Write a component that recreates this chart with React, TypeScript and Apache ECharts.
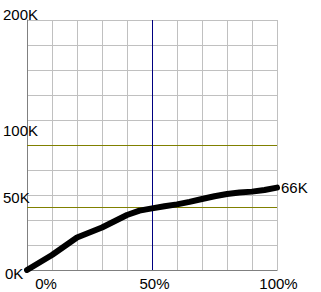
import React, { useEffect, useRef } from "react";
import * as echarts from "echarts";

const percents = [0, 5, 10, 15, 20, 25, 30, 35, 40, 45, 50, 55, 60, 65, 70, 75, 80, 85, 90, 95, 100];
const valuesK = [0, 6, 12, 19, 26, 30, 34, 39, 44, 47.5, 49.3, 51, 52.5, 54.5, 56.8, 59, 60.8, 62, 62.7, 64, 65.9];
const yLabelValues = [0, 50, 100, 200];
const xLabelValues = [0, 50, 100];
const refLinesK = [50, 100];
const refLinePct = 50;

const FONT = "'Liberation Sans', Arial, sans-serif";

export default function App() {
  const ref = useRef<HTMLDivElement>(null);
  useEffect(() => {
    if (!ref.current) return;
    const chart = echarts.init(ref.current, null, { renderer: "svg" });
    const data = percents.map((p, i) => [p, valuesK[i]]);
    chart.setOption({
      animation: false,
      textStyle: { fontFamily: FONT },
      grid: { left: 27, top: 20, right: 44, bottom: 22, containLabel: false },
      xAxis: [
        {
          type: "value",
          min: 0,
          max: 100,
          interval: 10,
          axisLine: { show: true, lineStyle: { color: "#c0c0c0" } },
          axisTick: { show: false },
          splitLine: { show: true, lineStyle: { color: "#c0c0c0", width: 1 } },
          axisLabel: {
            show: true,
            margin: 6,
            color: "#000",
            fontSize: 15,
            fontFamily: FONT,
            formatter: (v: number) => {
              if (!xLabelValues.includes(v)) return "";
              if (v === 0) return "{a|" + v + "%}";
              if (v === 50) return "{b|" + v + "%}";
              return "{c|" + v + "%}";
            },
            rich: {
              a: { fontSize: 15, fontFamily: FONT, color: "#000", padding: [0, 0, 0, 38] },
              b: { fontSize: 15, fontFamily: FONT, color: "#000", padding: [0, 0, 0, 5] },
              c: { fontSize: 15, fontFamily: FONT, color: "#000", padding: [0, 0, 0, 3] },
            },
          },
        },
        {
          type: "value",
          position: "top",
          min: 0,
          max: 100,
          interval: 10,
          axisLine: { show: true, lineStyle: { color: "#808080" } },
          axisTick: { show: false },
          splitLine: { show: false },
          axisLabel: { show: false },
        },
      ],
      yAxis: [
        {
          type: "value",
          min: 0,
          max: 200,
          interval: 20,
          axisLine: { show: true, lineStyle: { color: "#808080" } },
          axisTick: { show: false },
          splitLine: { show: true, lineStyle: { color: "#c0c0c0", width: 1 } },
          axisLabel: { show: false },
        },
        {
          type: "value",
          position: "left",
          min: 0,
          max: 200,
          interval: 50,
          axisLine: { show: false },
          axisTick: { show: false },
          splitLine: { show: false },
          axisLabel: {
            show: true,
            align: "left",
            margin: 24,
            color: "#000",
            fontSize: 15,
            fontFamily: FONT,
            formatter: (v: number) => {
              if (!yLabelValues.includes(v)) return "";
              const key = v === 0 ? "z" : v === 50 ? "f" : v === 100 ? "h" : "t";
              return "{" + key + "|" + v + "K}";
            },
            rich: {
              z: { fontSize: 15, fontFamily: FONT, color: "#000", padding: [6, 0, 0, 2] },
              f: { fontSize: 15, fontFamily: FONT, color: "#000", padding: [0, 0, 20, 0] },
              h: { fontSize: 15, fontFamily: FONT, color: "#000", padding: [0, 0, 30, 0] },
              t: { fontSize: 15, fontFamily: FONT, color: "#000", padding: [0, 0, 12, 0] },
            },
          },
        },
      ],
      series: [
        {
          type: "line",
          data: [],
          z: 1,
          markLine: {
            silent: true,
            symbol: "none",
            label: { show: false },
            data: [
              ...refLinesK.map((v) => ({ yAxis: v, lineStyle: { color: "#808000", width: 1, type: "solid" } })),
              { xAxis: refLinePct, lineStyle: { color: "#000080", width: 1, type: "solid" } },
            ],
          },
        },
        {
          type: "line",
          z: 5,
          data,
          showSymbol: false,
          symbol: "none",
          smooth: false,
          lineStyle: { color: "#000", width: 6, cap: "round", join: "round" },
          endLabel: {
            show: true,
            distance: 4,
            color: "#000",
            fontSize: 15,
            fontFamily: FONT,
            formatter: (p: any) => Math.round(p.value[1]) + "K",
          },
        },
      ],
    });
    return () => chart.dispose();
  }, []);
  return <div ref={ref} style={{ width: 321, height: 292, position: "absolute", left: 0, top: 0 }} />;
}
